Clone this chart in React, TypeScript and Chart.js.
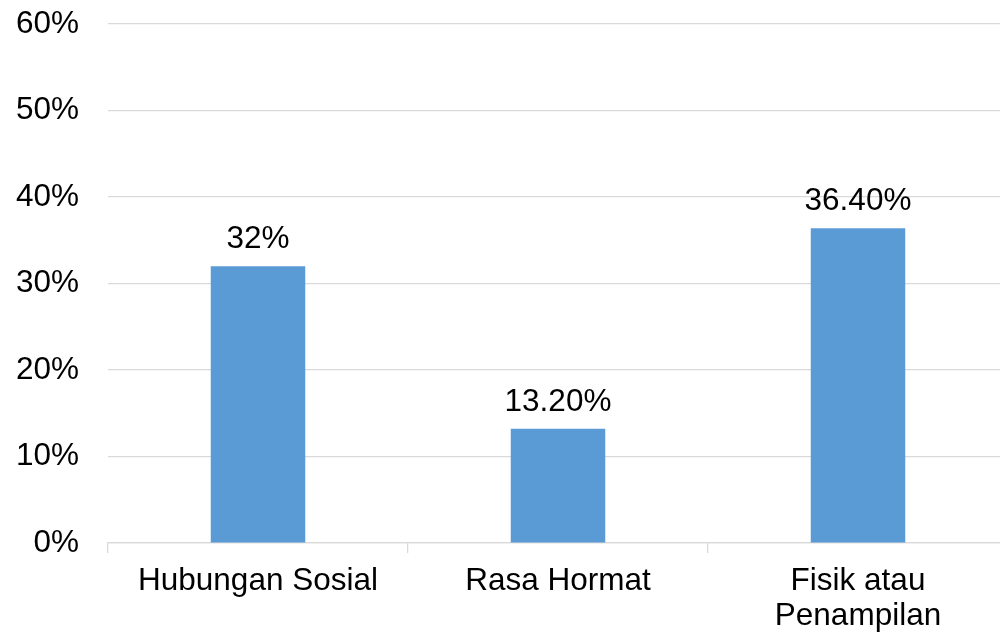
import React, { useEffect, useRef } from "react";
import { Chart, registerables } from "chart.js";

Chart.register(...registerables);

const categories: (string | string[])[] = [
  "Hubungan Sosial",
  "Rasa Hormat",
  ["Fisik atau", "Penampilan"],
];
const values: number[] = [32, 13.2, 36.4];
const valueLabels: string[] = ["32%", "13.20%", "36.40%"];
const yTicks: number[] = [0, 10, 20, 30, 40, 50, 60];

const FONT = "'Liberation Sans', Arial, sans-serif";
const GRID = "#d9d9d9";
const FONT_SIZE = 31.5;

// Writes each value label just above its bar
const barValueLabels = {
  id: "barValueLabels",
  afterDatasetsDraw(chart: any) {
    const { ctx } = chart;
    const meta = chart.getDatasetMeta(0);
    ctx.save();
    ctx.font = `${FONT_SIZE}px ${FONT}`;
    ctx.fillStyle = "#000";
    ctx.textAlign = "center";
    ctx.textBaseline = "alphabetic";
    meta.data.forEach((bar: any, i: number) => {
      ctx.fillText(valueLabels[i], bar.x, bar.y - 18);
    });
    ctx.restore();
  },
};

export default function App() {
  const ref = useRef<HTMLCanvasElement | null>(null);

  useEffect(() => {
    document.body.style.margin = "0";
    document.body.style.overflow = "hidden";
    if (!ref.current) return;
    const chart = new Chart(ref.current, {
      type: "bar",
      data: {
        labels: categories,
        datasets: [
          {
            data: values,
            backgroundColor: "#5b9bd5",
            borderWidth: 0,
            categoryPercentage: 1,
            barPercentage: 0.315,
          },
        ],
      },
      options: {
        animation: false,
        responsive: false,
        maintainAspectRatio: false,
        layout: { padding: { top: 24, right: 2, left: 0, bottom: 0 } },
        plugins: {
          legend: { display: false },
          tooltip: { enabled: false },
        },
        scales: {
          x: {
            grid: {
              display: true,
              drawOnChartArea: false,
              drawTicks: true,
              tickLength: 10,
              color: GRID,
              lineWidth: 1.25,
            },
            border: { display: true, color: GRID, width: 1.25 },
            ticks: {
              color: "#000",
              padding: 10.5,
              font: { family: FONT, size: FONT_SIZE, lineHeight: 1.12 },
              maxRotation: 0,
              autoSkip: false,
            },
            afterFit: (scale: any) => {
              scale.height = 91;
              scale.paddingLeft = 0;
              scale.paddingRight = 0;
            },
          },
          y: {
            min: 0,
            max: 60,
            afterBuildTicks: (scale: any) => {
              scale.ticks = yTicks.map((v) => ({ value: v }));
            },
            grid: {
              color: GRID,
              lineWidth: 1.25,
              drawTicks: false,
            },
            border: { display: false },
            ticks: {
              color: "#000",
              padding: 29,
              font: { family: FONT, size: FONT_SIZE },
              callback: (v: any) => `${v}%`,
            },
            afterFit: (scale: any) => {
              scale.width = 108;
              scale.paddingTop = 0;
              scale.paddingBottom = 0;
            },
          },
        },
      },
      plugins: [barValueLabels],
    });
    return () => chart.destroy();
  }, []);

  return (
    <div
      style={{
        position: "absolute",
        left: 0,
        top: 0,
        width: 1000,
        height: 634,
        overflow: "hidden",
        background: "#fff",
      }}
    >
      <canvas ref={ref} width={1010} height={634} style={{ display: "block" }} />
    </div>
  );
}
